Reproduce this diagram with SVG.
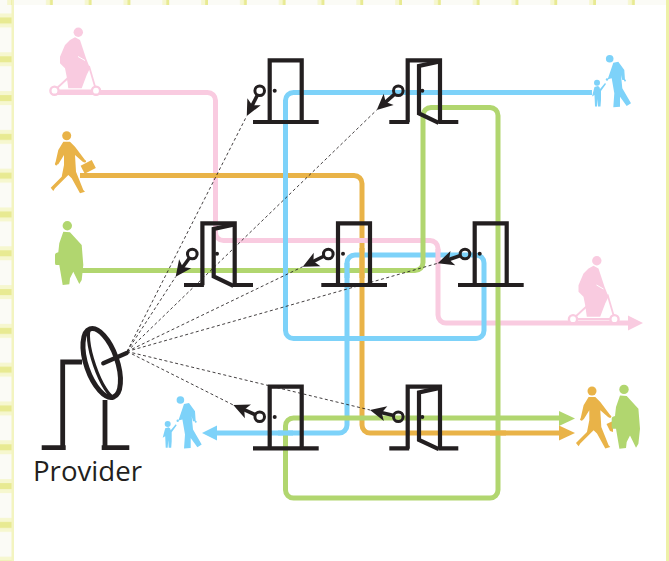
<svg xmlns="http://www.w3.org/2000/svg" width="669" height="561" viewBox="0 0 669 561">
<style>
.ln{fill:none;stroke-width:5}
.pk{stroke:#f9cbe0}.og{stroke:#e9b348}.gr{stroke:#b1d66f}.bl{stroke:#7dd2f9}
.fpk{fill:#f9cbe0}.fog{fill:#e9b348}.fgr{fill:#b1d66f}.fbl{fill:#7dd2f9}
.blk{fill:none;stroke:#231f20;stroke-width:4.2}
.dash{fill:none;stroke:#231f20;stroke-width:1;stroke-dasharray:3 2.5;opacity:.85}
.shaft{fill:none;stroke:#231f20;stroke-width:3.6}
.knob{fill:none;stroke:#231f20;stroke-width:3}
.dot{fill:#231f20}
text{font-family:"Open Sans","Noto Sans",sans-serif;fill:#231f20}
</style>
<defs>
<pattern id="hb" width="669" height="38.8" patternUnits="userSpaceOnUse" y="0.5"><rect y="13" width="669" height="14" fill="#f6f7cf"/><rect y="17" width="669" height="6" fill="#e8ea92"/></pattern>
<pattern id="vb" width="38.8" height="561" patternUnits="userSpaceOnUse" x="14"><rect x="32" width="14" height="561" fill="#f6f7cf"/><rect x="36" width="6" height="561" fill="#e8ea92"/></pattern>
<marker id="ah" markerUnits="userSpaceOnUse" markerWidth="28" markerHeight="28" viewBox="-14 -14 28 28" refX="0" refY="0" orient="auto"><path d="M8,0 L-8,-7.5 L-4,0 L-8,7.5 Z" fill="#231f20"/></marker>
<g id="door-closed">
<path class="blk" d="M0,62 V0 H32 V62"/><path class="blk" d="M-16.7,61.7 H49"/><circle class="dot" cx="5" cy="30.4" r="2"/>
</g>
<g id="door-open">
<path class="blk" d="M0,62 V0 H32.3 V62"/><path class="blk" d="M-18.4,61.7 H1.5 M30.6,61.7 H50.6"/><path class="blk" d="M32,1.2 L11.3,5.7 V53.2 L31,62.5"/><circle class="dot" cx="14.6" cy="30.4" r="2"/>
</g>
<g id="scooter" class="fpk">
<circle cx="78.3" cy="32.3" r="4.7"/>
<path d="M70,40 L75,37.3 L80,40 L86,58.3 L90,68.3 L86.7,75 L81.7,88.3 L68.3,88.3 L66.7,76.7 L65,68.3 L60,63.3 L60,56.7 L65,45 Z"/>
<path d="M89,66 L96,90 M55,90 L69,77 M55,90.5 H96" fill="none" stroke="#f9cbe0" stroke-width="1.8"/>
<circle cx="54.5" cy="90.7" r="4.1" fill="#fff" stroke="#f9cbe0" stroke-width="2.4"/>
<circle cx="96" cy="90.7" r="4.1" fill="#fff" stroke="#f9cbe0" stroke-width="2.4"/>
<path d="M78,56.5 L85,60.5" stroke="#fff" stroke-width="1" fill="none"/>
</g>
<g id="walker" class="fog">
<circle cx="66.7" cy="135.7" r="4.5"/>
<path d="M63.3,141.7 L70,141.7 L75,146.7 L85,160 L83.3,162.3 L75,155 L76,171.7 L83.3,190 L85,191.7 L80,193.3 L71.7,178.3 L68.3,175 L55,188.3 L53.3,191 L50.7,187.7 L61.7,176.7 L64,165 L64,155 L58.3,164.3 L55.3,163.3 L58.3,150 Z"/>
<circle cx="84.7" cy="161.3" r="1.3"/><circle cx="56.3" cy="164" r="1.4"/>
</g>
<g id="fat" class="fgr">
<circle cx="67.3" cy="225.7" r="4.7"/>
<path d="M63.3,231.7 L70,232.3 L81.7,245 L83.3,265 L81.7,280 L79.3,284 L73.3,271.7 L70,278.3 L69.3,284.3 L62.7,285 L59.3,265 L56,265 Q55,265 55,263 L55,255 Q55,253 58.3,252.3 L59.3,243.3 Z"/>
</g>
<g id="family" class="fbl">
<circle cx="609.7" cy="58.7" r="3.8"/>
<path d="M613.3,62.7 L618.3,61.7 L624.3,70 L625,80 L622.3,80 L621,75 L622.3,88.3 L631,103.3 L626.7,106 L620,96.7 L620,106.7 L613.3,107.3 L614.3,93.3 L611.7,78.3 L607.7,79.3 Z"/>
<circle cx="625" cy="80.5" r="1"/><circle cx="607" cy="79.5" r="1.2"/>
<circle cx="597" cy="82.7" r="3"/>
<path d="M594.5,87 L598,86 Q600,87 600,89 L605,83 L606,84 L601,91 L601,100 L600.5,106.5 L598,106.5 L597.5,99 L597,106.5 L595,106.5 L594.5,95 L592,96.5 Z"/>
</g>
</defs>

<g id="background">
<rect width="669" height="561" fill="#fbfbf6"/>
<rect width="14" height="561" fill="url(#hb)"/>
<rect width="669" height="5" fill="url(#vb)"/>
<rect x="11.5" width="2.5" height="561" fill="#f3f4c0"/>
<rect x="666" width="3" height="561" fill="#eef0a8"/>
<rect x="14" y="5" width="652" height="556" fill="#fff"/>
</g>

<g id="connectors">
<path class="ln pk" d="M55,92.5 H207.5 A8,8 0 0 1 215.5,100.5 V232.5 A8,8 0 0 0 223.5,240.5 H430 A8,8 0 0 1 438,248.5 V315 A8,8 0 0 0 446,323 H630"/>
<polygon class="fpk" points="628,315.5 643,323 628,330.5"/>
<path class="ln og" d="M80,175.5 H354 A8,8 0 0 1 362,183.5 V425 A8,8 0 0 0 370,433 H561"/>
<path class="ln bl" d="M592,92.5 H293.5 A8,8 0 0 0 285.5,100.5 V330.5 A8,8 0 0 0 293.5,338.5 H476 A8,8 0 0 0 484,330.5 V263 A8,8 0 0 0 476,255 H355 A8,8 0 0 0 347,263 V425 A8,8 0 0 1 339,433 H215"/>
<polygon class="fbl" points="217,425.5 202,433 217,440.5"/>
<path class="ln gr" d="M80,270.5 H415 A8,8 0 0 0 423,262.5 V115.5 A8,8 0 0 1 431,107.5 H490 A8,8 0 0 1 498,115.5 V490 A8,8 0 0 1 490,498 H293.5 A8,8 0 0 1 285.5,490 V426 A8,8 0 0 1 293.5,418 H561"/>
<polygon class="fgr" points="559,411 575,418.5 559,426"/>
<polygon class="fog" points="559,425.5 575,433 559,440.5"/>
<path class="ln pk" d="M438,249 V262 M354,240.5 H370"/>
<path class="ln og" d="M362,248 V278 M490,433 H506"/>
<path class="ln bl" d="M285.5,263 V278 M347,263 V278 M278,433 H293"/>
<path class="dash" d="M127,351.5 L246.7,116 M127,351.5 L376.7,110 M127,351.5 L175.7,276.7 M127,351.5 L302.7,266.7 M127,351.5 L437.7,263.3 M127,351.5 L233.3,405 M127,351.5 L370,410"/>
</g>

<g id="door-1"><use href="#door-closed" x="269.7" y="60.3"/><circle class="knob" cx="259.7" cy="90.7" r="4.8"/><path class="shaft" marker-end="url(#ah)" d="M257.6,94.8 L250.4,108.9"/></g>
<g id="door-2"><use href="#door-open" x="407.7" y="60.3"/><circle class="knob" cx="398.3" cy="90.7" r="4.8"/><path class="shaft" marker-end="url(#ah)" d="M394.9,93.8 L382.7,104.7"/></g>
<g id="door-3"><use href="#door-open" x="202.4" y="223.3"/><circle class="knob" cx="192.3" cy="254" r="4.8"/><path class="shaft" marker-end="url(#ah)" d="M189.6,257.7 L180.4,270.2"/></g>
<g id="door-4"><use href="#door-closed" x="338" y="223.3"/><circle class="knob" cx="328.3" cy="254" r="4.8"/><path class="shaft" marker-end="url(#ah)" d="M324.2,256 L309.9,263.1"/></g>
<g id="door-5"><use href="#door-closed" x="474.7" y="223.3"/><circle class="knob" cx="465" cy="254" r="4.8"/><path class="shaft" marker-end="url(#ah)" d="M460.6,255.5 L445.3,260.7"/></g>
<g id="door-6"><use href="#door-closed" x="269.7" y="386.7"/><circle class="knob" cx="259.7" cy="416.7" r="4.8"/><path class="shaft" marker-end="url(#ah)" d="M255.5,414.8 L240.6,408.2"/></g>
<g id="door-7"><use href="#door-open" x="407.7" y="386.7"/><circle class="knob" cx="398.3" cy="416.7" r="4.8"/><path class="shaft" marker-end="url(#ah)" d="M393.8,415.6 L377.8,411.8"/></g>

<g id="user-pink-start"><use href="#scooter"/></g>
<g id="user-orange-start"><rect class="fog" x="82" y="162.5" width="12.5" height="9" transform="rotate(-27 88 167)"/><use href="#walker"/></g>
<g id="user-green-start"><use href="#fat"/></g>
<g id="user-blue-start"><use href="#family"/></g>
<g id="user-pink-end"><use href="#scooter" x="518.5" y="228.5"/></g>
<g id="user-orange-end"><polygon class="fog" points="606.5,424 613,421 613,432 610,431"/><use href="#walker" x="525.3" y="255.3"/></g>
<g id="user-green-end"><use href="#fat" x="556.7" y="163.7"/></g>
<g id="user-blue-end"><use href="#family" x="-429.3" y="341.3"/></g>

<g id="provider">
<path class="blk" d="M82,362 H62.7 V448 M105,400 V448 M41.7,447.7 H65.7 M101.7,447.7 H129.3" style="stroke-width:4.8"/>
<g transform="translate(101.7 363) rotate(-19)">
<ellipse rx="15.5" ry="36" fill="#fff" stroke="#231f20" stroke-width="5"/>
<path d="M1,-36 A8.5,36 0 0 0 1,36" fill="none" stroke="#231f20" stroke-width="3.2"/>
</g>
<path d="M103.3,363.3 L126.7,353" fill="none" stroke="#231f20" stroke-width="4.4" stroke-linecap="round"/>
<text x="33" y="481" font-size="28" textLength="109" lengthAdjust="spacingAndGlyphs">Provider</text>
</g>
</svg>
